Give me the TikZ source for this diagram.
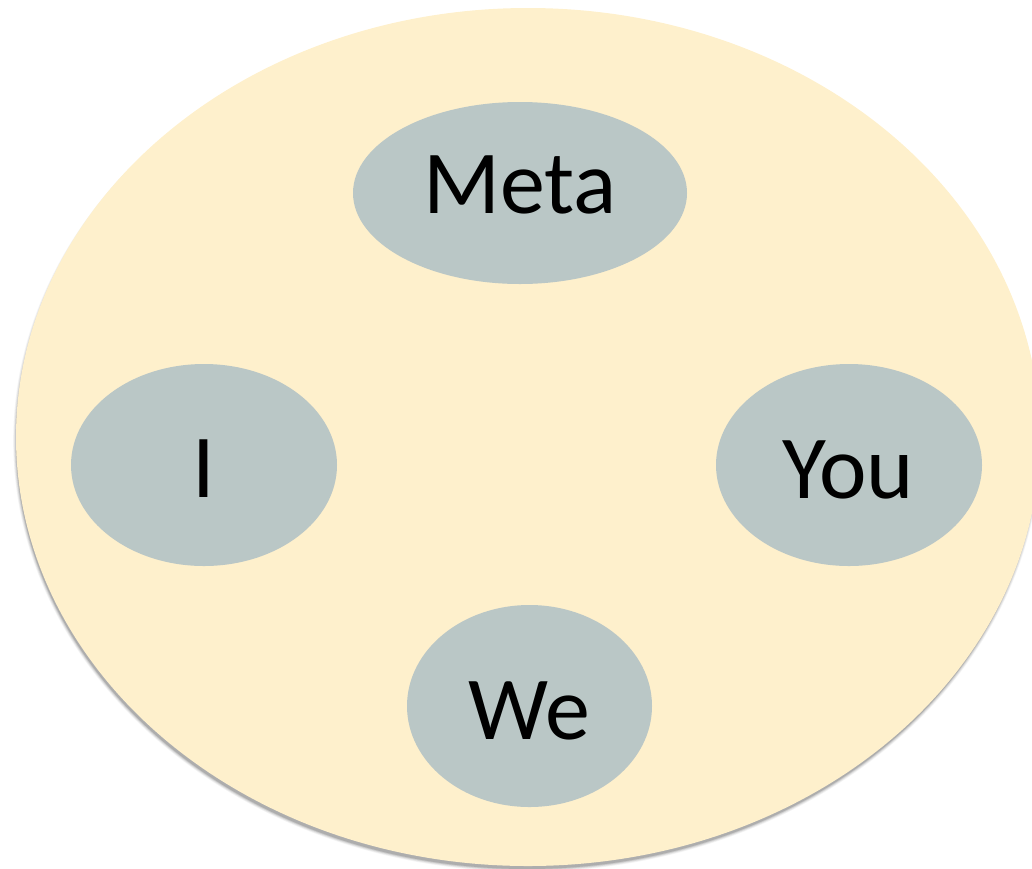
\documentclass[tikz,border=0pt]{standalone}
\usepackage{fontspec}
\setmainfont{Carlito}
\usetikzlibrary{shapes.geometric}
\definecolor{bigfill}{HTML}{FEF0CC}
\definecolor{smallfill}{HTML}{BAC7C6}
\tikzset{
  bubble/.style={ellipse, fill=smallfill, draw=none, inner sep=0pt},
  word/.style={anchor=base, font=\fontsize{90}{100}\selectfont, text=black, inner sep=0pt},
}
\begin{document}
\begin{tikzpicture}[x=1pt,y=1pt]
\useasboundingbox (0,0) rectangle (1032,-868);
\clip (0,0) rectangle (1032,-868);
% soft shadow, offset downwards
\foreach \r/\o in {4/0.04,3/0.05,2/0.07,1/0.09,0/0.12} {
  \fill[black, opacity=\o] (527,-441) ellipse [x radius=511+\r*0.7, y radius=428+\r*0.7];
}
% outer ellipse
\node[ellipse, fill=bigfill, draw=none, inner sep=0pt, minimum width=1024pt, minimum height=858pt] (outer) at (528,-437) {};
% inner ellipses
\node[bubble, minimum width=334pt, minimum height=182pt] (meta) at (520,-193) {};
\node[bubble, minimum width=266pt, minimum height=202pt] (i) at (204,-465) {};
\node[bubble, minimum width=266pt, minimum height=202pt] (you) at (849,-465) {};
\node[bubble, minimum width=245pt, minimum height=202pt] (we) at (529.5,-706) {};
% texts
\node[word] (metat) at (520,-213) {Meta};
\node[word] (it) at (204,-497) {I};
\node[word] (yout) at (848,-498) {You};
\node[word] (wet) at (529,-739) {We};
\end{tikzpicture}
\end{document}
